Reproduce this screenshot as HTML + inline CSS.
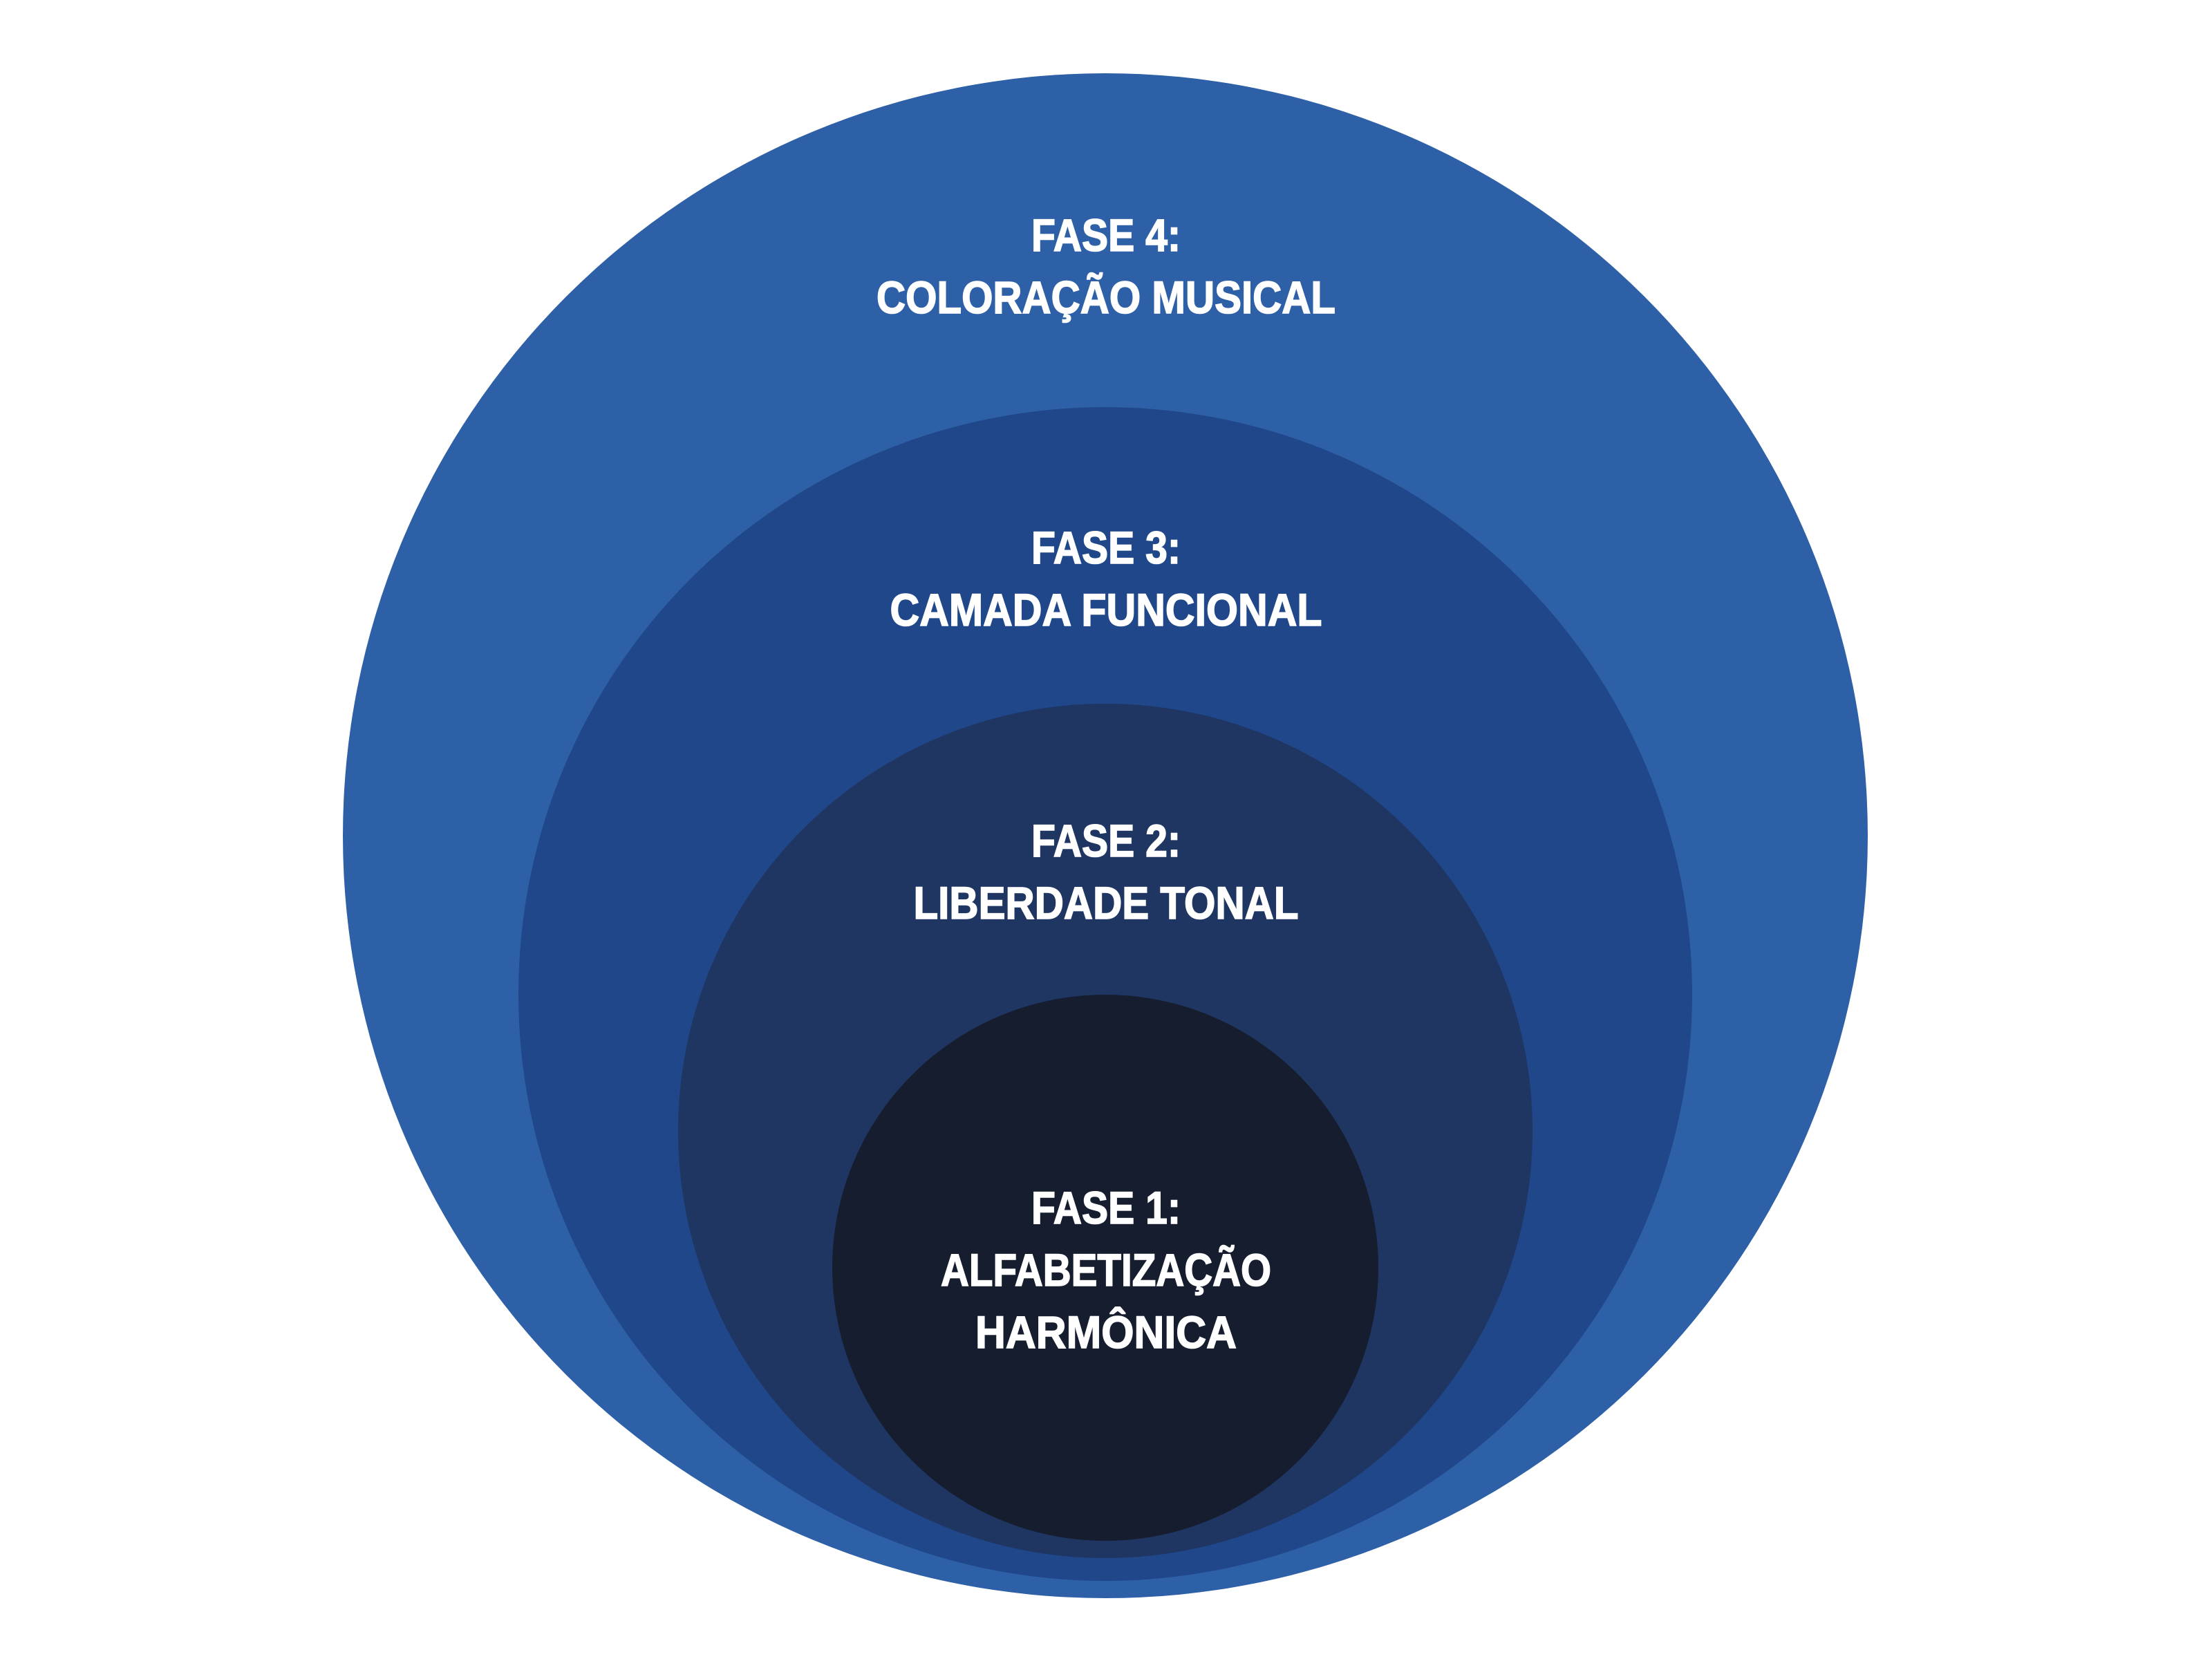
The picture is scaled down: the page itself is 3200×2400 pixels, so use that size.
<!DOCTYPE html>
<html>
<head>
<meta charset="utf-8">
<style>
  html, body { margin: 0; padding: 0; background: #ffffff; }
  svg { display: block; }
  text {
    font-family: "Liberation Sans", "DejaVu Sans", sans-serif;
    font-weight: bold;
    fill: #ffffff;
    stroke: #ffffff;
    stroke-width: 1.6px;
    font-size: 66px;
  }
</style>
</head>
<body>
<svg width="3200" height="2400" viewBox="0 0 3200 2400" xmlns="http://www.w3.org/2000/svg">
  <rect x="0" y="0" width="3200" height="2400" fill="#ffffff"/>
  <circle cx="1599" cy="1209" r="1103" fill="#2E60A8"/>
  <circle cx="1599" cy="1438" r="849" fill="#1F4789"/>
  <circle cx="1599" cy="1636" r="618" fill="#1F3662"/>
  <circle cx="1599" cy="1834" r="395" fill="#151D2E"/>

  <text x="1600" y="363" text-anchor="middle" textLength="216" lengthAdjust="spacingAndGlyphs">FASE 4:</text>
  <text x="1600" y="453" text-anchor="middle" textLength="664" lengthAdjust="spacingAndGlyphs">COLORAÇÃO MUSICAL</text>

  <text x="1600" y="815" text-anchor="middle" textLength="216" lengthAdjust="spacingAndGlyphs">FASE 3:</text>
  <text x="1600" y="905" text-anchor="middle" textLength="625" lengthAdjust="spacingAndGlyphs">CAMADA FUNCIONAL</text>

  <text x="1600" y="1239" text-anchor="middle" textLength="216" lengthAdjust="spacingAndGlyphs">FASE 2:</text>
  <text x="1600" y="1329" text-anchor="middle" textLength="557" lengthAdjust="spacingAndGlyphs">LIBERDADE TONAL</text>

  <text x="1600" y="1770" text-anchor="middle" textLength="216" lengthAdjust="spacingAndGlyphs">FASE 1:</text>
  <text x="1600" y="1860" text-anchor="middle" textLength="478" lengthAdjust="spacingAndGlyphs">ALFABETIZAÇÃO</text>
  <text x="1600" y="1950" text-anchor="middle" textLength="378" lengthAdjust="spacingAndGlyphs">HARMÔNICA</text>
</svg>
</body>
</html>
